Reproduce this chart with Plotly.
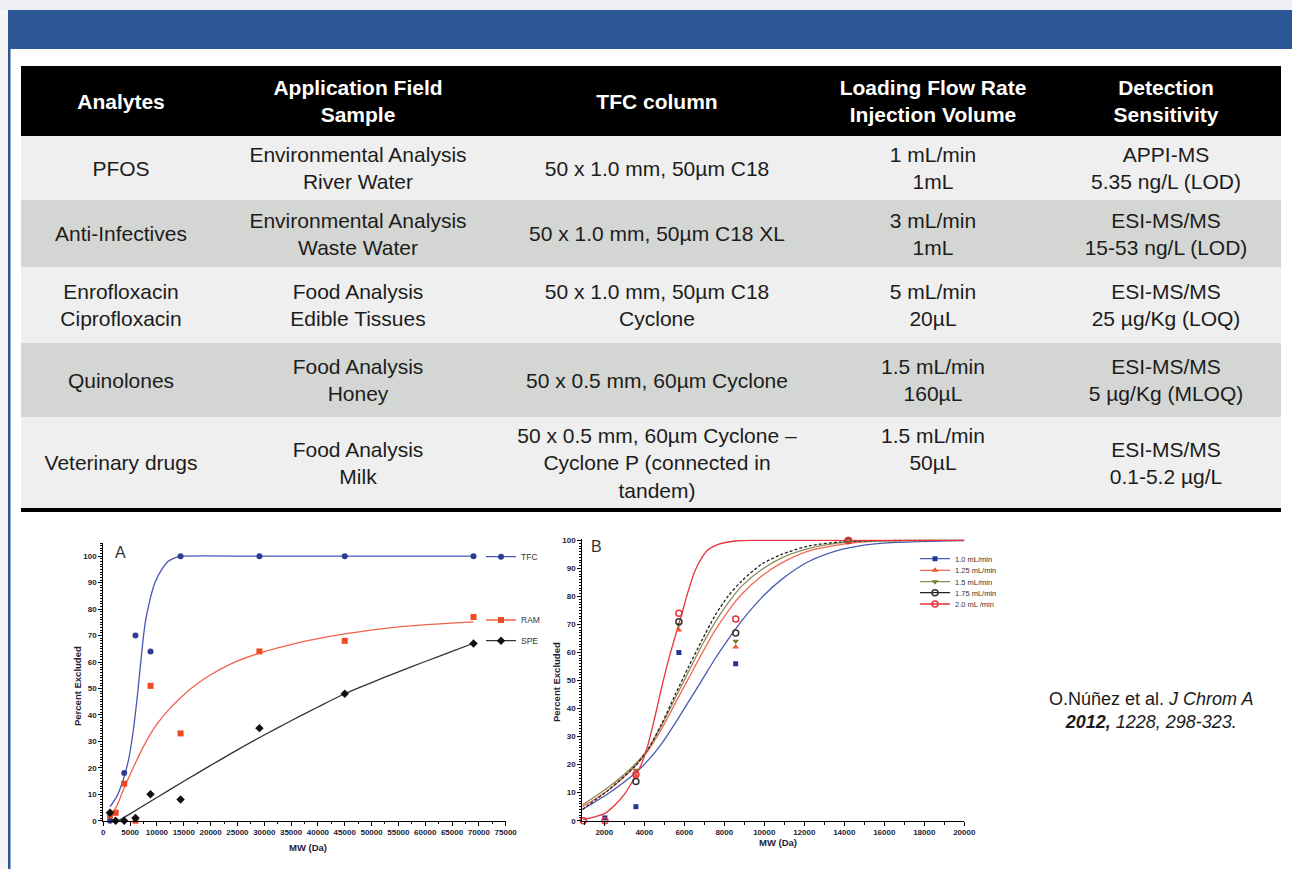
import plotly.graph_objects as go

W, H = 1292, 869
FONT = "Liberation Sans, Arial, sans-serif"

# ---------------- table content ----------------
TABLE_HEADERS = ["Analytes", "Application Field<br>Sample", "TFC column",
                 "Loading Flow Rate<br>Injection Volume", "Detection<br>Sensitivity"]
ANALYTES = ["PFOS", "Anti-Infectives", "Enrofloxacin<br>Ciprofloxacin", "Quinolones", "Veterinary drugs"]
FIELDS = ["Environmental Analysis<br>River Water", "Environmental Analysis<br>Waste Water",
          "Food Analysis<br>Edible Tissues", "Food Analysis<br>Honey", "Food Analysis<br>Milk"]
TFC_COLUMNS = ["50 x 1.0 mm, 50µm C18", "50 x 1.0 mm, 50µm C18 XL", "50 x 1.0 mm, 50µm C18<br>Cyclone",
               "50 x 0.5 mm, 60µm Cyclone", "50 x 0.5 mm, 60µm Cyclone –<br>Cyclone P (connected in<br>tandem)"]
FLOW_VOLUME = ["1 mL/min<br>1mL", "3 mL/min<br>1mL", "5 mL/min<br>20µL", "1.5 mL/min<br>160µL",
               "1.5 mL/min<br>50µL<br> "]
DETECTION = ["APPI-MS<br>5.35 ng/L (LOD)", "ESI-MS/MS<br>15-53 ng/L (LOD)", "ESI-MS/MS<br>25 µg/Kg (LOQ)",
             "ESI-MS/MS<br>5 µg/Kg (MLOQ)", "ESI-MS/MS<br>0.1-5.2 µg/L"]

# ---------------- chart A data ----------------
MW_A = [1250, 2300, 3900, 6000, 8800, 14400, 29100, 45000, 69000]
TFC_A = [0, None, 18, 70, 64, 100, 100, 100, 100]
RAM_A = [2, 3, 14, 0, 51, 33, 64, 68, 77]
SPE_A = [3, 0, 0, 1, 10, 8, 35, 48, 67]

TFC_FIT_X = [1250, 2500, 3700, 4700, 5600, 6400, 7150, 7800, 8700, 9600, 10900, 12100, 13700, 14600, 30000, 50000, 69000]
TFC_FIT_Y = [5.3, 9.1, 15.4, 23, 34.3, 48.2, 63.4, 74.7, 83.6, 89.9, 95, 98.1, 99.7, 100, 100, 100, 100]
RAM_FIT_X = [1250, 2500, 3800, 5000, 6500, 8000, 10000, 12000, 14300, 17000, 20000, 24000, 29500, 35500, 45000, 55000, 69000]
RAM_FIT_Y = [1.5, 5.5, 12, 17.5, 24, 30, 36.5, 41.5, 46.3, 51, 55.2, 59.5, 63.6, 66.9, 70.6, 73.3, 75.2]
SPE_FIT_X = [2800, 5000, 10000, 15000, 20000, 25000, 30000, 35000, 40000, 45000, 50000, 55000, 60000, 65000, 69000]
SPE_FIT_Y = [0, 2.6, 8.8, 14.9, 20.9, 26.8, 32.4, 37.8, 43.0, 48.0, 52.2, 56.3, 60.2, 64.0, 67.1]

# ---------------- chart B data ----------------
MW_B = [950, 2030, 3580, 5730, 8570, 14200]
B_10 = [None, 1, 5, 60, 56, 100]
B_125 = [None, None, 16, 68, 62, 100]
B_15 = [None, None, 18, 70, 64, 100]
B_175 = [None, None, 14, 71, 67, 100]
B_20 = [0, 0, 16.5, 74, 72, 100]

FIT_B_X = [900, 2200, 3580, 4200, 4870, 5530, 6200, 6870, 7530, 8200, 8870, 9870, 10870, 12200, 13870, 15530, 20000]
FIT_B_10 = [4.0, 9.7, 17.2, 21.6, 27.5, 34.6, 42.3, 50.0, 57.7, 64.8, 71.3, 79.6, 86.1, 92.4, 96.8, 98.8, 99.9]
FIT_B_125 = [5.0, 10.9, 19.8, 25.1, 32.8, 41.7, 50.6, 59.5, 67.8, 74.9, 80.8, 87.3, 92, 96.2, 98.6, 99.8, 100]
FIT_B_15 = [5.6, 11.9, 20.4, 25.7, 34, 43.5, 53, 62.4, 70.7, 77.8, 83.7, 89.6, 93.8, 97.1, 99.2, 99.8, 100]
FIT_B_175 = [4.0, 10.9, 19.8, 25.7, 34.6, 44.7, 54.7, 64.2, 73.1, 80.2, 85.5, 91.5, 95, 98, 99.5, 99.9, 100]
FIT_B20_X = [950, 1530, 2030, 2530, 3030, 3530, 3870, 4200, 4530, 4870, 5200, 5530, 5870, 6200, 6530, 6870, 7200, 7700, 8530, 9700, 20000]
FIT_B20_Y = [0.5, 1.4, 2.6, 5.6, 9.7, 15.6, 20.4, 27.5, 37, 47.6, 57.1, 65.4, 73.7, 82, 89.1, 93.8, 96.8, 98.6, 99.8, 100, 100]

CITATION = "O.Núñez et al. <i>J Chrom A</i><br><b><i>2012,</i></b><i> 1228, 298-323.</i>"

# ---------------- layout constants ----------------
ROW_HEIGHTS = [70, 64, 67, 76, 74, 91, 4]
ROW_FILLS = ["#000000", "#eeefee", "#d4d6d3", "#eeefee", "#d4d6d3", "#eeefee", "#000000"]
COL_CENTERS = [100, 337, 636, 912, 1145]
TABLE_W = 1260
TEXT_DY = 2.5


def pxx(p):
    return p / W


def pxy(p):
    return 1 - p / H


row_centers = []
acc = 0
for h in ROW_HEIGHTS:
    row_centers.append(acc + h / 2)
    acc += h
TABLE_H = acc

fig = go.Figure()

# ---- table rows (bars) ----
fig.add_trace(go.Bar(
    x=[TABLE_W] * len(ROW_HEIGHTS), y=row_centers, base=0, width=ROW_HEIGHTS,
    orientation="h", marker=dict(color=ROW_FILLS, line=dict(width=0)),
    xaxis="x3", yaxis="y3", hoverinfo="skip", showlegend=False))

fig.add_trace(go.Scatter(
    x=COL_CENTERS, y=[row_centers[0] + TEXT_DY] * len(COL_CENTERS), text=TABLE_HEADERS, mode="text",
    textposition="middle center",
    textfont=dict(size=21, color="white", family=FONT, weight="bold"),
    xaxis="x3", yaxis="y3", hoverinfo="skip", showlegend=False))

for i, row in enumerate(zip(ANALYTES, FIELDS, TFC_COLUMNS, FLOW_VOLUME, DETECTION)):
    fig.add_trace(go.Scatter(
        x=COL_CENTERS, y=[row_centers[i + 1] + TEXT_DY] * len(COL_CENTERS), text=list(row), mode="text",
        textposition="middle center",
        textfont=dict(size=21, color="#1c1c1c", family=FONT),
        xaxis="x3", yaxis="y3", hoverinfo="skip", showlegend=False))

# ---- chart A ----
A_STYLE = [
    ("TFC", TFC_FIT_X, TFC_FIT_Y, TFC_A, "#2e3b92", "#4656b5", "circle", 6, "legend"),
    ("RAM", RAM_FIT_X, RAM_FIT_Y, RAM_A, "#ee4a22", "#f0634a", "square", 6, "legend2"),
    ("SPE", SPE_FIT_X, SPE_FIT_Y, SPE_A, "#111111", "#333333", "diamond", 6.5, "legend3"),
]
for name, fx, fy, ys, mc, lc, sym, sz, lg in A_STYLE:
    fig.add_trace(go.Scatter(x=fx, y=fy, mode="lines", line=dict(color=lc, width=1.3, shape="spline", smoothing=0.8),
                             xaxis="x", yaxis="y", showlegend=False, hoverinfo="skip"))
for name, fx, fy, ys, mc, lc, sym, sz, lg in A_STYLE:
    fig.add_trace(go.Scatter(x=MW_A, y=ys, mode="markers", marker=dict(color=mc, symbol=sym, size=sz),
                             cliponaxis=False, xaxis="x", yaxis="y", showlegend=False, name=name))
    fig.add_trace(go.Scatter(x=[None], y=[None], mode="lines+markers", name=name, legend=lg,
                             line=dict(color=lc, width=1.3), marker=dict(color=mc, symbol=sym, size=sz),
                             xaxis="x", yaxis="y"))

# ---- chart B ----
B_STYLE = [
    ("1.0 mL/min", FIT_B_X, FIT_B_10, B_10, "#24358f", "#4a5ab0", "square", 5, "solid", "legend4"),
    ("1.25 mL/min", FIT_B_X, FIT_B_125, B_125, "#f05a2a", "#f26a50", "triangle-up", 6, "solid", "legend5"),
    ("1.5 mL/min", FIT_B_X, FIT_B_15, B_15, "#7a7a3a", "#8c8c5a", "triangle-down", 6, "solid", "legend6"),
    ("1.75 mL/min", FIT_B_X, FIT_B_175, B_175, "#333333", "#222222", "circle-open", 6, "3px,2px", "legend7"),
    ("2.0 mL /min", FIT_B20_X, FIT_B20_Y, B_20, "#e8323c", "#e8323c", "circle-open", 6, "solid", "legend8"),
]
for name, fx, fy, ys, mc, lc, sym, sz, dash, lg in B_STYLE:
    fig.add_trace(go.Scatter(x=fx, y=fy, mode="lines",
                             line=dict(color=lc, width=1.3, shape="spline", smoothing=0.8, dash=dash),
                             xaxis="x2", yaxis="y2", showlegend=False, hoverinfo="skip"))
for name, fx, fy, ys, mc, lc, sym, sz, dash, lg in B_STYLE:
    mk = dict(color=mc, symbol=sym, size=sz)
    if "open" in sym:
        mk["line"] = dict(color=mc, width=1.5)
    fig.add_trace(go.Scatter(x=MW_B, y=ys, mode="markers", marker=mk, cliponaxis=False,
                             xaxis="x2", yaxis="y2", showlegend=False, name=name))
    fig.add_trace(go.Scatter(x=[None], y=[None], mode="lines+markers", name=name, legend=lg,
                             line=dict(color=lc, width=1.3), marker=mk, xaxis="x2", yaxis="y2"))

TICK_FONT = dict(size=8, color="#1d2236", family=FONT, weight="bold")
TITLE_FONT = dict(size=9.5, color="#1d2236", family=FONT, weight="bold")


def axis(**kw):
    d = dict(showline=True, linecolor="black", linewidth=1, ticks="outside", ticklen=4, tickwidth=1,
             tickcolor="black", showgrid=False, zeroline=False, tickfont=TICK_FONT, tickangle=0,
             tickformat="d", fixedrange=True, automargin=False)
    d.update(kw)
    return d


def legend_at(xp, yp, size):
    return dict(x=pxx(xp), y=pxy(yp), xanchor="left", yanchor="middle", bgcolor="rgba(0,0,0,0)",
                borderwidth=0, font=dict(size=size, color="#333333", family=FONT),
                itemwidth=30, tracegroupgap=0)


def label(text, xp, yp, angle=0):
    return dict(text=text, x=pxx(xp), y=pxy(yp), xref="paper", yref="paper", xanchor="center",
                yanchor="middle", showarrow=False, textangle=angle, font=TITLE_FONT)


fig.update_layout(
    width=W, height=H, margin=dict(l=0, r=0, t=0, b=0, autoexpand=False),
    paper_bgcolor="white", plot_bgcolor="white", font=dict(family=FONT),
    xaxis=axis(domain=[pxx(103.3), pxx(505.7)], range=[0, 75000], dtick=5000, tick0=0, anchor="y",
               minor=dict(dtick=2500, ticklen=2, ticks="outside", tickcolor="black")),
    yaxis=axis(domain=[pxy(820.7), pxy(543)], range=[0, 105], dtick=10, tick0=0, anchor="x",
               minor=dict(dtick=1, ticklen=2, ticks="outside", tickcolor="black")),
    xaxis2=axis(domain=[pxx(582.3), pxx(964.3)], range=[900, 20000], dtick=2000, tick0=0, anchor="y2",
                minor=dict(dtick=1000, ticklen=3, ticks="outside", tickcolor="black")),
    yaxis2=axis(domain=[pxy(820.7), pxy(539.3)], range=[0, 100.4], dtick=10, tick0=0, anchor="x2",
                minor=dict(dtick=1, ticklen=2, ticks="outside", tickcolor="black")),
    xaxis3=dict(domain=[pxx(21), pxx(1281)], range=[0, TABLE_W], visible=False, anchor="y3",
                fixedrange=True, automargin=False),
    yaxis3=dict(domain=[pxy(66 + TABLE_H), pxy(66)], range=[TABLE_H, 0], visible=False, anchor="x3",
                fixedrange=True, automargin=False),
    legend=legend_at(481, 556.7, 8.5),
    legend2=legend_at(481, 620, 8.5),
    legend3=legend_at(481, 640.7, 8.5),
    legend4=legend_at(915, 558.7, 7.5),
    legend5=legend_at(915, 570.3, 7.5),
    legend6=legend_at(915, 581.7, 7.5),
    legend7=legend_at(915, 592.7, 7.5),
    legend8=legend_at(915, 604, 7.5),
    shapes=[
        dict(type="rect", xref="paper", yref="paper", x0=0, x1=1, y0=pxy(10), y1=1,
             fillcolor="#eef0f3", line=dict(width=0)),
        dict(type="rect", xref="paper", yref="paper", x0=0, x1=pxx(8), y0=0, y1=pxy(10),
             fillcolor="#f5f5f5", line=dict(width=0)),
        dict(type="rect", xref="paper", yref="paper", x0=pxx(8), x1=1, y0=pxy(49), y1=pxy(10),
             fillcolor="#2b5797", line=dict(width=0)),
        dict(type="rect", xref="paper", yref="paper", x0=pxx(8), x1=pxx(10.5), y0=0, y1=pxy(49),
             fillcolor="#2b5797", line=dict(width=0)),
    ],
    annotations=[
        dict(text="A", x=pxx(113), y=pxy(552), xref="paper", yref="paper", xanchor="left", yanchor="middle",
             showarrow=False, font=dict(size=16, color="#333333", family=FONT)),
        dict(text="B", x=pxx(589), y=pxy(546), xref="paper", yref="paper", xanchor="left", yanchor="middle",
             showarrow=False, font=dict(size=16, color="#333333", family=FONT)),
        label("Percent Excluded", 77, 686, -90),
        label("MW (Da)", 308, 847),
        label("Percent Excluded", 556, 682, -90),
        label("MW (Da)", 778, 842),
        dict(text=CITATION, x=pxx(1151), y=pxy(710), xref="paper", yref="paper", xanchor="center",
             yanchor="middle", align="center", showarrow=False,
             font=dict(size=18, color="#1a1a1a", family=FONT)),
    ],
)

POST = ("document.documentElement.style.margin='0';document.documentElement.style.padding='0';"
        "document.documentElement.style.overflow='hidden';"
        "document.body.style.margin='0';document.body.style.padding='0';document.body.style.overflow='hidden';")
fig.write_html("out.html", post_script=POST, config={"displayModeBar": False})
